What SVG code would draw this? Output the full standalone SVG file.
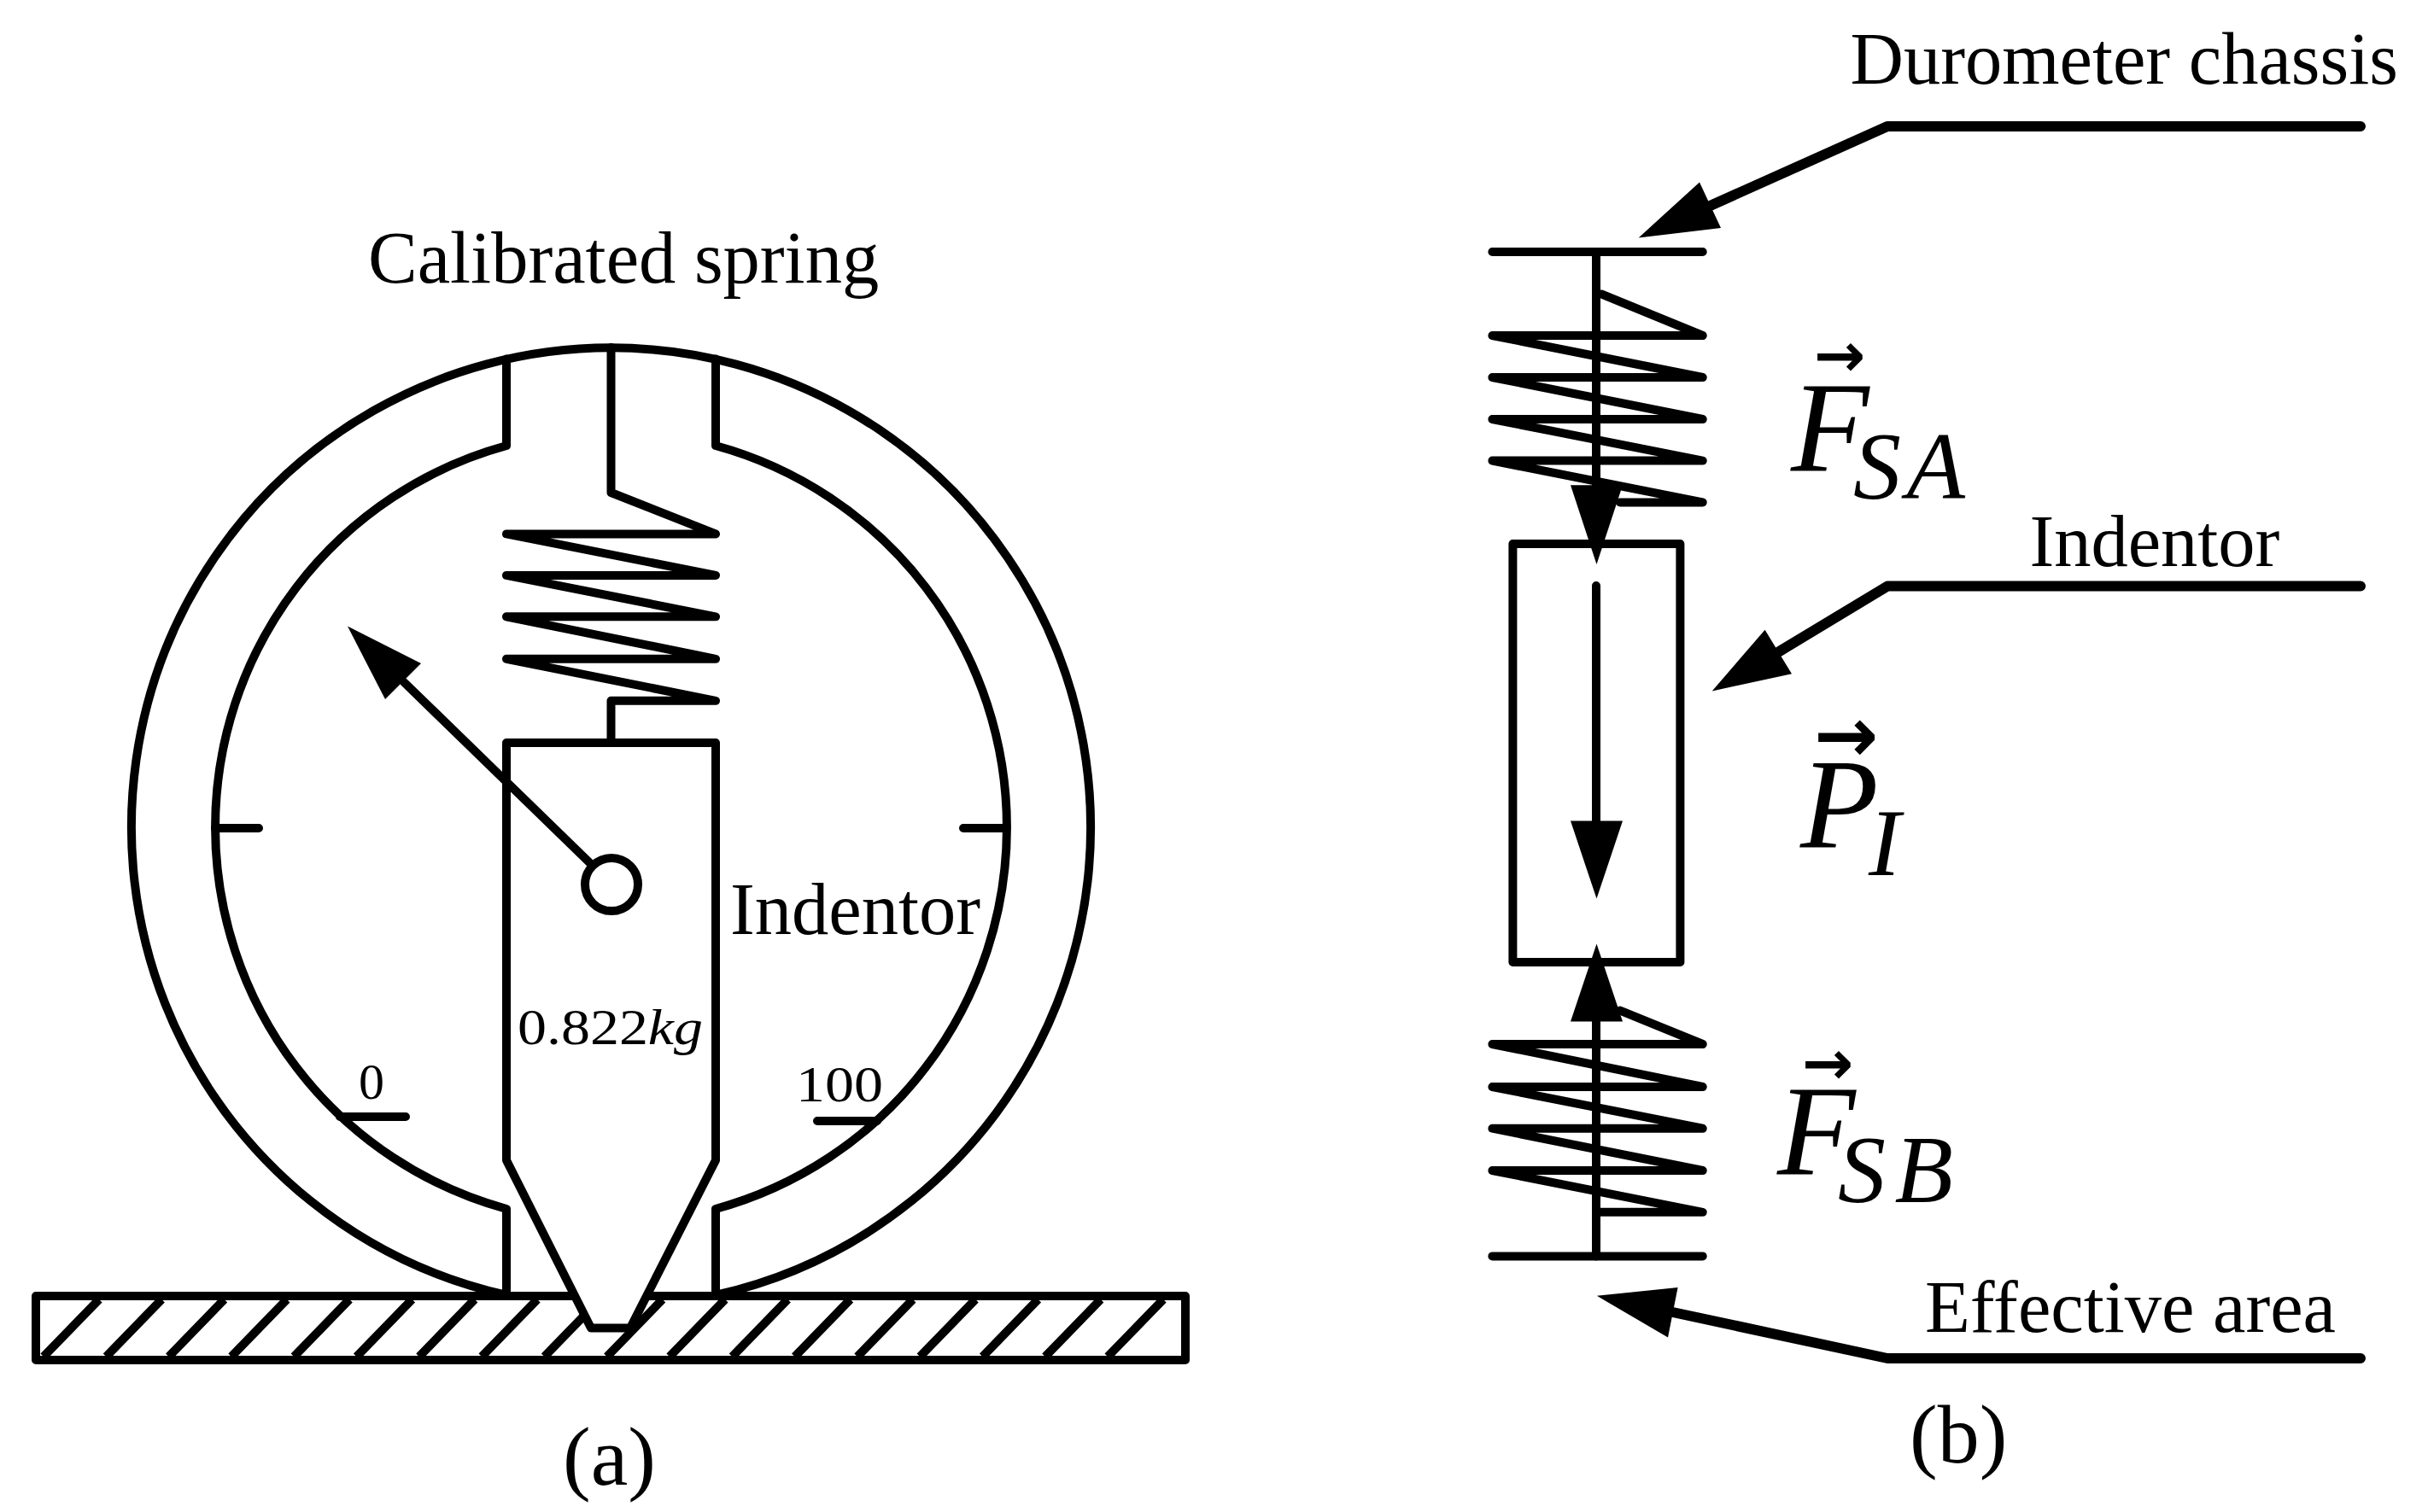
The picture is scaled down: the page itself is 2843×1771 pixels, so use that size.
<svg xmlns="http://www.w3.org/2000/svg" width="2843" height="1771" viewBox="0 0 2843 1771">
<style>
.l{fill:none;stroke:#000;stroke-width:10;stroke-linejoin:round;stroke-linecap:round}
.t{stroke-width:12}
.w{fill:#fff}
.h{fill:#000;stroke:none}
text{font-family:"Liberation Serif","Times New Roman",serif;fill:#000}
.lb{font-size:86.5px}
.sm{font-size:60px}
.cap{font-size:98px}
.v{font-size:150px;font-style:italic}
.s{font-size:112px;font-style:italic}
.a{font-family:"DejaVu Sans",sans-serif;font-size:72px;font-weight:bold;font-style:normal}
</style>
<rect width="2843" height="1771" fill="#fff"/>
<g id="body">
<path class="l" d="M593 1517A561.600 561.600 0 1 1 838 1517"/>
<path class="l" d="M593 420.500V522A463.500 463.500 0 0 0 593 1416V1517M838 420.500V522A463.500 463.500 0 0 1 838 1416V1517"/>
<path class="l" d="M252 970H303M1128 970H1178M398 1308H475M957 1313H1027"/>
</g>
<g id="surface">
<rect class="l" x="42" y="1518" width="1346" height="75"/>
<path class="l" style="stroke-linecap:butt" d="M51 1589L116 1522M124.300 1589L189.300 1522M197.600 1589L262.600 1522M270.900 1589L335.900 1522M344.200 1589L409.200 1522M417.500 1589L482.500 1522M490.800 1589L555.800 1522M564.100 1589L629.100 1522M637.400 1589L702.400 1522M710.700 1589L775.700 1522M784 1589L849 1522M857.300 1589L922.300 1522M930.600 1589L995.600 1522M1003.900 1589L1068.900 1522M1077.200 1589L1142.200 1522M1150.500 1589L1215.500 1522M1223.800 1589L1288.800 1522M1297.100 1589L1362.100 1522"/>
</g>
<g id="indentor-a">
<path class="l w" d="M593 870H838V1359L738 1555.500H692L593 1359Z"/>
</g>
<g id="spring-a">
<path class="l" d="M715.500 407V577L838 625.400H593L838 673.900H593L838 722.300H593L838 771.800H593L838 820.800H715.500V870"/>
</g>
<g id="needle">
<path class="l" d="M473 799L693 1013"/>
<polygon class="h" points="407,733.600 493,777 451,819"/>
<circle class="l w" cx="716" cy="1036" r="31"/>
</g>
<g id="labels-a">
<text class="lb" x="431" y="330.500">Calibrated spring</text>
<text class="lb" x="855" y="1094">Indentor</text>
<text class="sm" x="606" y="1223" textLength="217" lengthAdjust="spacingAndGlyphs">0.822<tspan font-style="italic">kg</tspan></text>
<text class="sm" x="420" y="1287">0</text>
<text class="sm" x="932" y="1290" textLength="102" lengthAdjust="spacingAndGlyphs">100</text>
<text class="cap" x="659" y="1739">(a)</text>
</g>
<g id="spring-b-top">
<path class="l" d="M1747.400 295H1993.700"/>
<path class="l" d="M1875 344.400L1993.700 393H1747.400L1993.700 442H1747.400L1993.700 491H1747.400L1993.700 539.600H1747.400L1993.700 588.400H1897"/>
</g>
<g id="indentor-b">
<rect class="l w" x="1771.400" y="637" width="196" height="490"/>
</g>
<g id="spring-b-bottom">
<path class="l" d="M1747.400 1471.400H1993.700"/>
<path class="l" d="M1897 1183.600L1993.700 1223H1747.400L1993.700 1273H1747.400L1993.700 1321.700H1747.400L1993.700 1371H1747.400L1993.700 1419.800H1869"/>
</g>
<g id="connectors">
<path class="l" d="M1869 295V570M1869 686V965M1869 1190V1471.400"/>
<polygon class="h" points="1839,568.300 1900,568.300 1869.500,661"/>
<polygon class="h" points="1839,961.600 1900,961.600 1869.500,1052.600"/>
<polygon class="h" points="1839,1196.500 1900,1196.500 1869.500,1105.500"/>
<path class="l t" d="M2764 148H2210L2002.500 241"/>
<polygon class="h" points="1918.700,278.400 1990,213.500 2015,267"/>
<path class="l t" d="M2764 686.600H2210L2082.700 763.500"/>
<polygon class="h" points="2004.700,809.400 2066.600,737.700 2098,789.300"/>
<path class="l t" d="M2764 1591H2210L1958.700 1537"/>
<polygon class="h" points="1869.800,1517.800 1964.600,1507.900 1953,1566.600"/>
</g>
<g id="labels-b">
<text class="lb" x="2166.500" y="97.600">Durometer chassis</text>
<text class="lb" x="2376.400" y="663">Indentor</text>
<text class="lb" x="2254" y="1559.500">Effective area</text>
<text class="cap" x="2236" y="1713">(b)</text>
<text><tspan class="a" x="2124" y="441">→</tspan><tspan class="v" x="2097" y="551">F</tspan><tspan class="s" x="2170" y="584.400" textLength="131">SA</tspan></text>
<text><tspan class="a" x="2124" y="892" style="font-size:90px">→</tspan><tspan class="v" x="2108" y="992.700">P</tspan><tspan class="s" x="2188" y="1024.500">I</tspan></text>
<text><tspan class="a" x="2110" y="1270">→</tspan><tspan class="v" x="2081" y="1374.500">F</tspan><tspan class="s" x="2152" y="1408" textLength="135">SB</tspan></text>
</g>
</svg>
